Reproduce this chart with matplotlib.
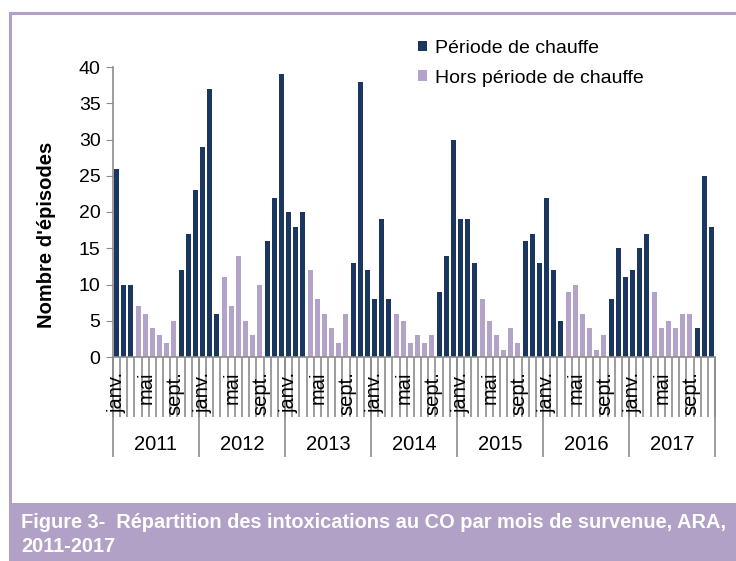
import numpy as np
import matplotlib
matplotlib.use('Agg')
import matplotlib.pyplot as plt
from matplotlib.patches import Rectangle
from matplotlib.lines import Line2D

plt.rcParams['font.family'] = ['Liberation Sans', 'DejaVu Sans']

# donnees (episodes par mois)
annees = ['2011', '2012', '2013', '2014', '2015', '2016', '2017']
ep_2011 = [26, 10, 10, 7, 6, 4, 3, 2, 5, 12, 17, 23]
ep_2012 = [29, 37, 6, 11, 7, 14, 5, 3, 10, 16, 22, 39]
ep_2013 = [20, 18, 20, 12, 8, 6, 4, 2, 6, 13, 38, 12]
ep_2014 = [8, 19, 8, 6, 5, 2, 3, 2, 3, 9, 14, 30]
ep_2015 = [19, 19, 13, 8, 5, 3, 1, 4, 2, 16, 17, 13]
ep_2016 = [22, 12, 5, 9, 10, 6, 4, 1, 3, 8, 15, 11]
ep_2017 = [12, 15, 17, 9, 4, 5, 4, 6, 6, 4, 25, 18]
mois_chauffe = [1, 2, 3, 10, 11, 12]
mois_labels = {1: 'janv.', 5: 'mai', 9: 'sept.'}

navy = '#1b365f'
lilas = '#b3a3c9'
cadre = '#b1a1c7'
gris = '#8c8c8c'

episodes = np.array(ep_2011 + ep_2012 + ep_2013 + ep_2014 + ep_2015 + ep_2016 + ep_2017)
mois = np.tile(np.arange(1, 13), len(annees))
chauffe = np.isin(mois, mois_chauffe)
x = np.arange(len(episodes))

fig = plt.figure(figsize=(7.36, 5.61), dpi=100)
W, H = 736, 561
ax = fig.add_axes([113 / W, (H - 357) / H, (715 - 113) / W, 290 / H])

ax.bar(x, np.where(chauffe, episodes, 0), width=0.68, color=navy, label='Période de chauffe')
ax.bar(x, np.where(chauffe, 0, episodes), width=0.68, color=lilas, label='Hors période de chauffe')

ax.set_xlim(-0.5, len(x) - 0.5)
ax.set_ylim(0, 40)
ax.set_yticks(range(0, 41, 5))
ax.tick_params(axis='y', length=5, color=gris, labelsize=14, pad=4)
ax.set_xticks([])
for s in ['top', 'right']:
    ax.spines[s].set_visible(False)
for s in ['left', 'bottom']:
    ax.spines[s].set_color(gris)
    ax.spines[s].set_linewidth(1.2)

ax.set_ylabel("Nombre d'épisodes", fontsize=14.5, fontweight='bold')
ax.yaxis.set_label_coords(-0.095, 0.42)

# axe des categories sur deux niveaux
tr = ax.get_xaxis_transform()
bornes = np.arange(len(x) + 1) - 0.5
ax.vlines(bornes, -0.207, 0, transform=tr, clip_on=False, color=gris, lw=1.2)
ax.vlines(bornes[::12], -0.345, 0, transform=tr, clip_on=False, color=gris, lw=1.2)
for i in x:
    if mois[i] in mois_labels:
        ax.text(i + 0.1, -0.05, mois_labels[mois[i]], rotation=90, ha='center', va='top',
                fontsize=14.5, transform=tr)
for k, a in enumerate(annees):
    ax.text(12 * k + 5.5, -0.3, a, ha='center', va='center', fontsize=14.5, transform=tr)

ax.legend(loc='upper left', bbox_to_anchor=(418 / W, 1 - 40 / H), bbox_transform=fig.transFigure,
          frameon=False, fontsize=14, handlelength=0.45, handleheight=0.45,
          handletextpad=0.4, labelspacing=0.65, borderpad=0, borderaxespad=0)

# cadre et bandeau de titre
fig.add_artist(Line2D([10 / W, 10 / W], [0, 1 - 13 / H], transform=fig.transFigure, color=cadre, lw=2.2))
fig.add_artist(Line2D([10 / W, 1], [1 - 13 / H, 1 - 13 / H], transform=fig.transFigure, color=cadre, lw=2.2))
fig.add_artist(Rectangle((9 / W, 0), 1, (H - 503) / H, transform=fig.transFigure,
                         facecolor=cadre, edgecolor='none'))
fig.text(21 / W, 1 - 523 / H, 'Figure 3-  Répartition des intoxications au CO par mois de survenue, ARA,',
         color='white', fontsize=14.4, fontweight='bold', va='center')
fig.text(21 / W, 1 - 546 / H, '2011-2017', color='white', fontsize=14.4, fontweight='bold', va='center')

fig.savefig('out.png', dpi=100)
